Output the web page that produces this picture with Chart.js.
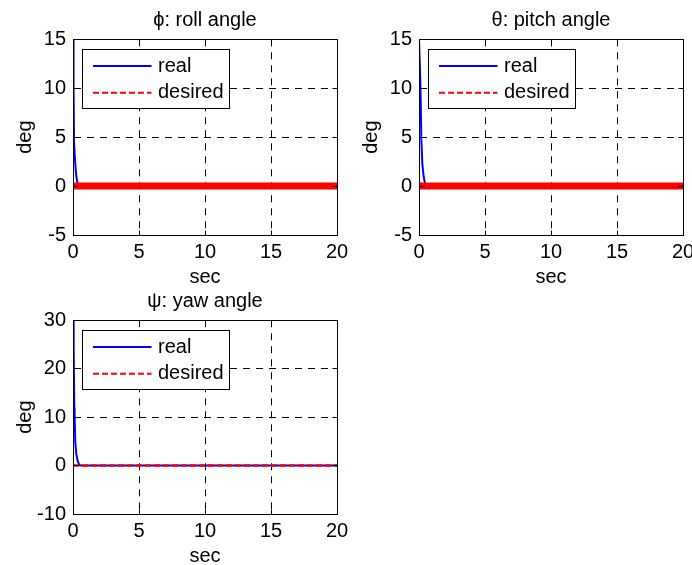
<!DOCTYPE html>
<html>
<head>
<meta charset="utf-8">
<script src="https://cdn.jsdelivr.net/npm/chart.js@4.4.0/dist/chart.umd.min.js"></script>
<style>
    html, body { margin: 0; padding: 0; background: #fff; overflow: hidden; width: 692px; height: 565px; }
    canvas { position: absolute; }
</style>
</head>
<body>
<canvas id="roll-chart" width="360" height="290" style="left:0;top:0"></canvas>
<canvas id="pitch-chart" width="360" height="290" style="left:346px;top:0"></canvas>
<canvas id="yaw-chart" width="360" height="288" style="left:0;top:281px"></canvas>
<script>
// time axis (sec) and tick labels
const timeTicks = [0, 5, 10, 15, 20];
const smallAngleTicks = [-5, 0, 5, 10, 15];
const yawTicks = [-10, 0, 10, 20, 30];

// real attitude (deg)
const rollTime = [0, 0.04, 0.08, 0.17, 0.25, 0.33, 0.42, 20];
const rollReal = [15, 10.3, 4.4, 2.3, 1.0, 0.4, 0, 0];
const pitchTime = [0, 0.1, 0.18, 0.25, 0.35, 0.45, 0.5, 20];
const pitchReal = [15, 10.8, 4.7, 2.3, 1.0, 0.3, 0, 0];
const yawTime = [0, 0.05, 0.1, 0.12, 0.17, 0.25, 0.35, 0.45, 0.55, 20];
const yawReal = [30, 24, 12, 11, 5, 2.4, 1, 0.3, 0, 0];

// desired attitude
const desiredTime = [0, 20];
const desiredAngle = [0, 0];

const font = "'Liberation Sans', Arial, sans-serif";
Chart.defaults.color = '#000';
Chart.defaults.font.family = font;

function align(px) {
    return Math.round(px - 0.5) + 0.5;
}

// matlab style box, inward ticks and boxed legend
const matlabAxes = {
    id: 'matlabAxes',
    afterDatasetsDraw(chart) {
        const { ctx, chartArea: a, scales } = chart;
        const l = align(a.left), r = align(a.right), t = align(a.top), b = align(a.bottom);
        ctx.save();
        ctx.strokeStyle = '#000';
        ctx.lineWidth = 1;
        ctx.setLineDash([]);
        ctx.strokeRect(l, t, r - l, b - t);
        ctx.beginPath();
        scales.x.ticks.forEach(tk => {
            const px = align(scales.x.getPixelForValue(tk.value));
            ctx.moveTo(px, b); ctx.lineTo(px, b - 5);
            ctx.moveTo(px, t); ctx.lineTo(px, t + 5);
        });
        scales.y.ticks.forEach(tk => {
            const py = align(scales.y.getPixelForValue(tk.value));
            ctx.moveTo(l, py); ctx.lineTo(l + 5, py);
            ctx.moveTo(r, py); ctx.lineTo(r - 5, py);
        });
        ctx.stroke();

        // legend
        const lx = Math.round(a.left + 9) + 0.5;
        const ly = Math.round(a.top + 10) + 0.5;
        const lw = 147, lh = 59;
        ctx.fillStyle = '#fff';
        ctx.fillRect(lx, ly, lw, lh);
        ctx.strokeRect(lx, ly, lw, lh);
        ctx.font = '20px ' + font;
        ctx.textBaseline = 'middle';
        ctx.textAlign = 'left';
        chart.data.datasets.forEach((ds, i) => {
            const y = ly + 16.5 + i * 26.7;
            ctx.strokeStyle = ds.borderColor;
            ctx.lineWidth = 2;
            ctx.setLineDash(ds.legendDash);
            ctx.beginPath();
            ctx.moveTo(lx + 10.5, y);
            ctx.lineTo(lx + 69, y);
            ctx.stroke();
            ctx.fillStyle = '#000';
            ctx.fillText(ds.label, lx + 75.5, y);
        });
        ctx.restore();
    }
};

function points(xs, ys) {
    return xs.map((x, i) => ({ x: x, y: ys[i] }));
}

function makeChart(id, title, time, real, yTicks, desiredWidth, desiredDash) {
    const yMin = yTicks[0];
    const yMax = yTicks[yTicks.length - 1];
    return new Chart(document.getElementById(id), {
        type: 'line',
        data: {
            datasets: [
                {
                    label: 'real',
                    data: points(time, real),
                    borderColor: '#0000ff',
                    borderWidth: 2,
                    pointRadius: 0,
                    tension: 0,
                    order: 2,
                    legendDash: []
                },
                {
                    label: 'desired',
                    data: points(desiredTime, desiredAngle),
                    borderColor: '#ff0000',
                    borderWidth: desiredWidth,
                    borderDash: desiredDash,
                    pointRadius: 0,
                    order: 1,
                    legendDash: [6, 3]
                }
            ]
        },
        options: {
            responsive: false,
            animation: false,
            layout: { padding: { left: 0, right: 23, top: 0, bottom: 0 } },
            plugins: {
                legend: { display: false },
                tooltip: { enabled: false },
                title: {
                    display: true,
                    text: title,
                    fullSize: false,
                    color: '#000',
                    font: { size: 20, weight: 'normal' },
                    padding: { top: 8.2, bottom: 7.1 }
                }
            },
            scales: {
                x: {
                    type: 'linear',
                    min: 0,
                    max: 20,
                    afterBuildTicks: s => { s.ticks = timeTicks.map(v => ({ value: v })); },
                    afterFit: s => { s.height = 55; },
                    ticks: { font: { size: 20 }, padding: 5, maxRotation: 0, autoSkip: false },
                    grid: { color: '#000', lineWidth: 1, drawTicks: false },
                    border: { display: true, color: '#000', dash: [7, 6] },
                    title: { display: true, text: 'sec', font: { size: 20 }, padding: { top: 0, bottom: 1 } }
                },
                y: {
                    min: yMin,
                    max: yMax,
                    afterBuildTicks: s => { s.ticks = yTicks.map(v => ({ value: v })); },
                    afterFit: s => { s.width = 73; },
                    ticks: { font: { size: 20 }, padding: 7 },
                    grid: { color: '#000', lineWidth: 1, drawTicks: false },
                    border: { display: true, color: '#000', dash: [7, 6] },
                    title: { display: true, text: 'deg', font: { size: 20 }, padding: { top: 13, bottom: 0 } }
                }
            }
        },
        plugins: [matlabAxes]
    });
}

makeChart('roll-chart', 'ϕ: roll angle', rollTime, rollReal, smallAngleTicks, 7, []);
makeChart('pitch-chart', 'θ: pitch angle', pitchTime, pitchReal, smallAngleTicks, 7, []);
makeChart('yaw-chart', 'ψ: yaw angle', yawTime, yawReal, yawTicks, 2.5, [6, 3]);
</script>
</body>
</html>
